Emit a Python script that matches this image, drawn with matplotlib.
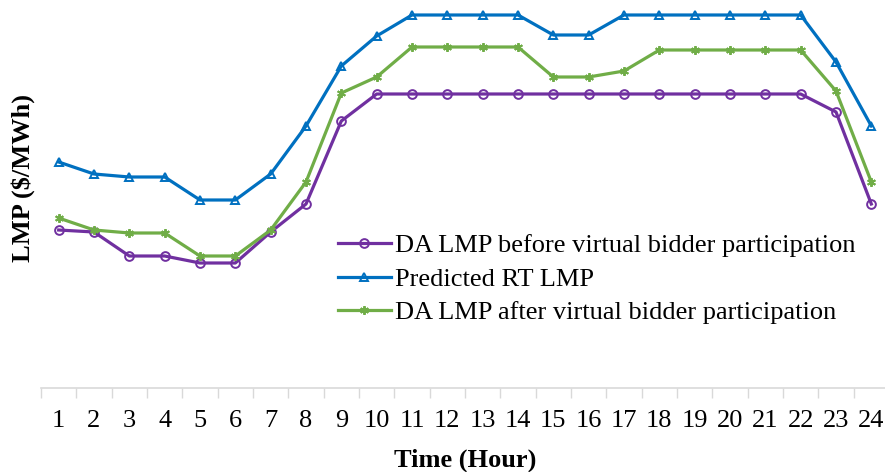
import matplotlib
matplotlib.use("Agg")
import matplotlib.pyplot as plt
import numpy as np

plt.rcParams["font.family"] = ["Liberation Serif", "DejaVu Serif"]

hours = list(range(1, 25))
hour_labels = [str(h) for h in hours]

# LMP values (arbitrary $/MWh scale, axis has no numbers)
da_before = [15.8, 15.6, 13.2, 13.2, 12.5, 12.5, 15.6, 18.4, 26.7,
             29.4, 29.4, 29.4, 29.4, 29.4, 29.4, 29.4, 29.4, 29.4, 29.4, 29.4, 29.4, 29.4,
             27.6, 18.4]
rt_pred = [22.6, 21.4, 21.1, 21.1, 18.8, 18.8, 21.4, 26.2, 32.2, 35.2,
           37.3, 37.3, 37.3, 37.3, 35.3, 35.3,
           37.3, 37.3, 37.3, 37.3, 37.3, 37.3, 32.6, 26.2]
da_after = [17.0, 15.8, 15.5, 15.5, 13.2, 13.2, 15.8, 20.6, 29.5, 31.1,
            34.1, 34.1, 34.1, 34.1, 31.1, 31.1, 31.7,
            33.8, 33.8, 33.8, 33.8, 33.8, 29.7, 20.6]

COLORS = {
    "before": "#7030A0",
    "rt": "#0070C0",
    "after": "#70AD47",
}

W, H = 885, 472
FS = 19

fig = plt.figure(figsize=(W / 100, H / 100), dpi=100)
ax = fig.add_axes([41 / W, (H - 388) / H, 848 / W, 380 / H])

common = dict(linewidth=2.3, markersize=6.3, markerfacecolor="none", markeredgewidth=1.4)
ax.plot(hours, da_before, color=COLORS["before"], marker="o",
        markeredgecolor=COLORS["before"], label="DA LMP before virtual bidder participation", **common)
ax.plot(hours, rt_pred, color=COLORS["rt"], marker="^",
        markeredgecolor=COLORS["rt"], label="Predicted RT LMP", **common)
ax.plot(hours, da_after, color=COLORS["after"], marker=(6, 2, 0),
        markeredgecolor=COLORS["after"], label="DA LMP after virtual bidder participation", **common)

ax.set_xlim(0.5, 24.5)
ax.set_ylim(0, 38)
ax.set_yticks([])
ax.set_xticks(hours)
ax.set_xticklabels(hour_labels)
ax.set_xticks(np.arange(0.5, 25, 1), minor=True)
ax.tick_params(axis="x", which="major", length=0, pad=16, labelsize=FS)
ax.tick_params(axis="x", which="minor", length=7, width=1, color="#D9D9D9", direction="out")

for side in ("left", "top", "right"):
    ax.spines[side].set_visible(False)
ax.spines["bottom"].set_color("#D9D9D9")
ax.spines["bottom"].set_linewidth(1.2)

fig.text(465 / W, 1 - 460 / H, "Time (Hour)", ha="center", va="center",
         fontsize=FS, fontweight="bold")
fig.text(23 / W, 1 - 178 / H, "LMP ($/MWh)", ha="center", va="center",
         rotation=90, fontsize=FS, fontweight="bold")

leg = ax.legend(loc="upper left", bbox_to_anchor=(338 / W, 1 - 234 / H),
                bbox_transform=fig.transFigure, frameon=False, fontsize=FS,
                handlelength=2.0, handletextpad=0.15, labelspacing=0.38,
                borderaxespad=0, borderpad=0)

fig.savefig("out.png", dpi=100)
